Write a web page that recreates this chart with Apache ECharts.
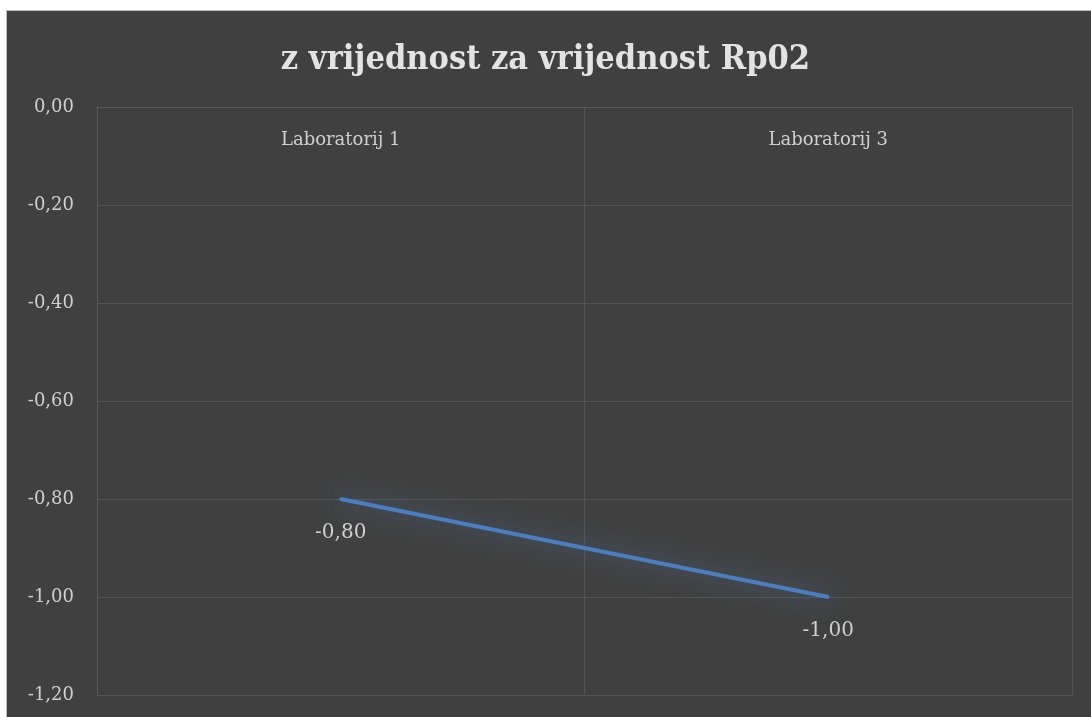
<!DOCTYPE html>
<html>
<head>
<meta charset="utf-8">
<script src="https://cdn.jsdelivr.net/npm/echarts@6/dist/echarts.min.js"></script>
<style>
  html, body { margin: 0; padding: 0; background: #ffffff; }
  #frame { position: absolute; left: 6px; top: 10px; width: 1090px; height: 720px;
           background: #404040; border: 1px solid #bfbfbf; }
  #main { position: absolute; left: 0; top: 0; width: 1091px; height: 717px; }
</style>
</head>
<body>
<div id="frame"></div>
<div id="main"></div>
<script>
var categories = ["Laboratorij 1", "Laboratorij 3"];
var zValues = [-0.80, -1.00];
var yTicks = { min: -1.2, max: 0, step: 0.2 };

function fmt(v) {
  return v.toFixed(2).replace(".", ",");
}

var chart = echarts.init(document.getElementById("main"));
var fontName = "DejaVu Serif";
var option = {
  backgroundColor: "transparent",
  title: {
    text: "z vrijednost za vrijednost Rp02",
    left: "center",
    top: 38,
    textStyle: { color: "#e3e3e3", fontFamily: "DejaVu Serif Condensed", fontWeight: "bold", fontSize: 34 }
  },
  grid: { left: 97, top: 107, right: 19, bottom: 22 },
  xAxis: {
    type: "category",
    data: categories,
    position: "top",
    boundaryGap: true,
    axisLine: { show: true, lineStyle: { color: "#5a5a5a", width: 1 } },
    axisTick: { show: false },
    axisLabel: { inside: true, margin: 24, color: "#d0d0d0", fontFamily: fontName, fontSize: 18 },
    splitLine: { show: true, lineStyle: { color: "#555555", width: 1 } }
  },
  yAxis: {
    type: "value",
    min: yTicks.min,
    max: yTicks.max,
    interval: yTicks.step,
    axisLine: { show: true, lineStyle: { color: "#5a5a5a" } },
    axisTick: { show: false },
    axisLabel: {
      margin: 23, color: "#d0d0d0", fontFamily: fontName, fontSize: 18,
      formatter: function (v) { return fmt(v); }
    },
    splitLine: { show: true, lineStyle: { color: "#555555", width: 1 } }
  },
  series: [{
    type: "line",
    data: zValues,
    symbol: "circle",
    symbolSize: 3,
    showSymbol: true,
    itemStyle: { color: "#4a7ebf", borderWidth: 0 },
    lineStyle: {
      color: "#4a7ebf", width: 4,
      shadowColor: "rgba(79,129,189,0.8)", shadowBlur: 24
    },
    label: {
      show: true, position: "bottom", distance: 22,
      color: "#d0d0d0", fontFamily: fontName, fontSize: 20,
      formatter: function (p) { return fmt(p.value); }
    },
    animation: false
  }]
};
chart.setOption(option);
</script>
</body>
</html>
